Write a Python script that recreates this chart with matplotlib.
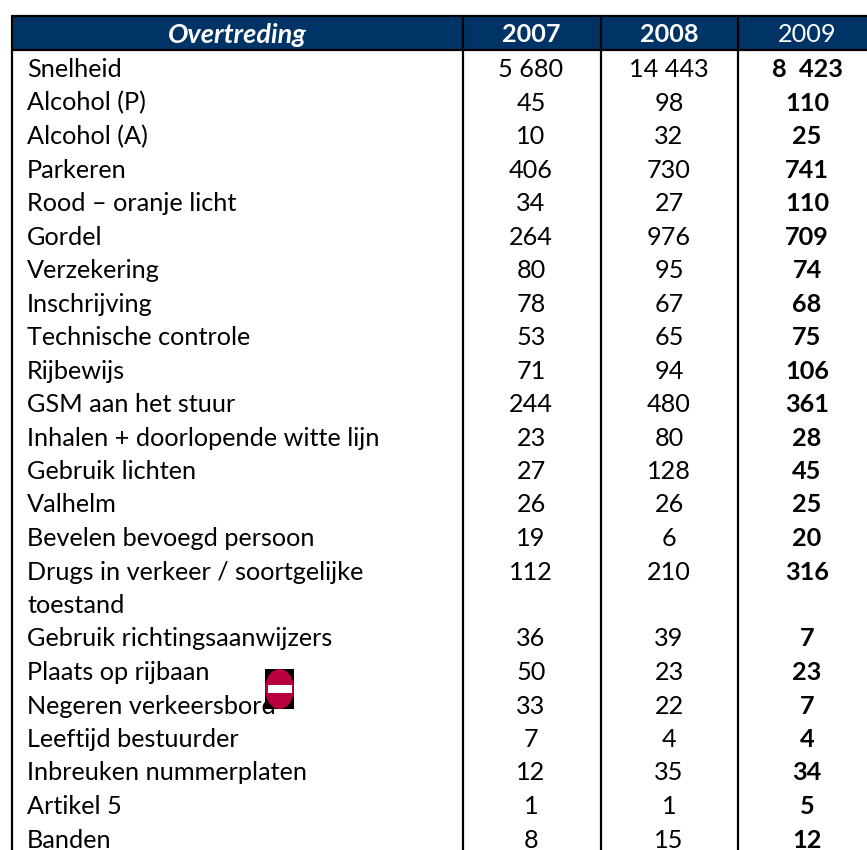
import matplotlib
matplotlib.use('Agg')
import matplotlib.pyplot as plt
from matplotlib.patches import Rectangle, Ellipse

# Table contents
columns = ['Overtreding', '2007', '2008', '2009']
offences = ['Snelheid', 'Alcohol (P)', 'Alcohol (A)', 'Parkeren', 'Rood – oranje licht', 'Gordel',
            'Verzekering', 'Inschrijving', 'Technische controle', 'Rijbewijs', 'GSM aan het stuur',
            'Inhalen + doorlopende witte lijn', 'Gebruik lichten', 'Valhelm', 'Bevelen bevoegd persoon',
            'Drugs in verkeer / soortgelijke\ntoestand', 'Gebruik richtingsaanwijzers', 'Plaats op rijbaan',
            'Negeren verkeersbord', 'Leeftijd bestuurder', 'Inbreuken nummerplaten', 'Artikel 5', 'Banden']
v2007 = ['5 680', '45', '10', '406', '34', '264', '80', '78', '53', '71', '244', '23', '27', '26', '19',
         '112', '36', '50', '33', '7', '12', '1', '8']
v2008 = ['14 443', '98', '32', '730', '27', '976', '95', '67', '65', '94', '480', '80', '128', '26', '6',
         '210', '39', '23', '22', '4', '35', '1', '15']
v2009 = ['8  423', '110', '25', '741', '110', '709', '74', '68', '75', '106', '361', '28', '45', '25', '20',
         '316', '7', '23', '7', '4', '34', '5', '12']

navy = '#003366'
font = ['Lato', 'DejaVu Sans']
size = 18.2

fig = plt.figure(figsize=(8.67, 8.5), dpi=100)
ax = fig.add_axes([0, 0, 1, 1])
ax.set_xlim(0, 867)
ax.set_ylim(850, 0)
ax.axis('off')

# Column edges and centres in pixels
edges = [11.5, 462.5, 600.5, 737.5]
centres = [237, 531, 669, 807]

# Header band
ax.add_patch(Rectangle((edges[0], 15), 867 - edges[0], 35, fc=navy, ec='none'))
ax.plot([edges[0], 867], [15.5, 15.5], color='black', lw=1.6, solid_capstyle='butt')
ax.plot([edges[0], 867], [50, 50], color='black', lw=1.6, solid_capstyle='butt')
for x in edges:
    ax.plot([x, x], [14.8, 850], color='black', lw=1.6, solid_capstyle='butt')

ax.text(centres[0], 34.5, columns[0], color='white', ha='center', va='center', fontsize=19.5,
        fontweight='bold', fontstyle='italic', family=font)
ax.text(centres[1], 34.5, columns[1], color='white', ha='center', va='center', fontsize=size,
        fontweight='bold', family=font)
ax.text(centres[2], 34.5, columns[2], color='white', ha='center', va='center', fontsize=size,
        fontweight='bold', family=font)
ax.text(centres[3], 34.5, columns[3], color='white', ha='center', va='center', fontsize=size, family=font)

# Body rows, the wrapped label takes two lines
line_h = 33.5
line = 0
for name, a, b, c in zip(offences, v2007, v2008, v2009):
    y = 69.5 + line * line_h
    parts = name.split('\n')
    for j, part in enumerate(parts):
        ax.text(27, y + j * line_h, part, ha='left', va='center', fontsize=size, family=font, color='black')
    ax.text(centres[1], y, a, ha='center', va='center', fontsize=size, family=font, color='black')
    ax.text(centres[2], y, b, ha='center', va='center', fontsize=size, family=font, color='black')
    ax.text(centres[3], y, c, ha='center', va='center', fontsize=size, family=font, color='black',
            fontweight='bold')
    line += len(parts)

# No-entry sign over the label
ax.add_patch(Rectangle((265, 669), 29, 40, fc='black', ec='none', zorder=5))
ax.add_patch(Ellipse((279.5, 689), 29, 40, fc='#B8003C', ec='none', zorder=6))
ax.add_patch(Rectangle((267.5, 685), 24, 8, fc='white', ec='none', zorder=7))

fig.savefig('out.png', dpi=100)
